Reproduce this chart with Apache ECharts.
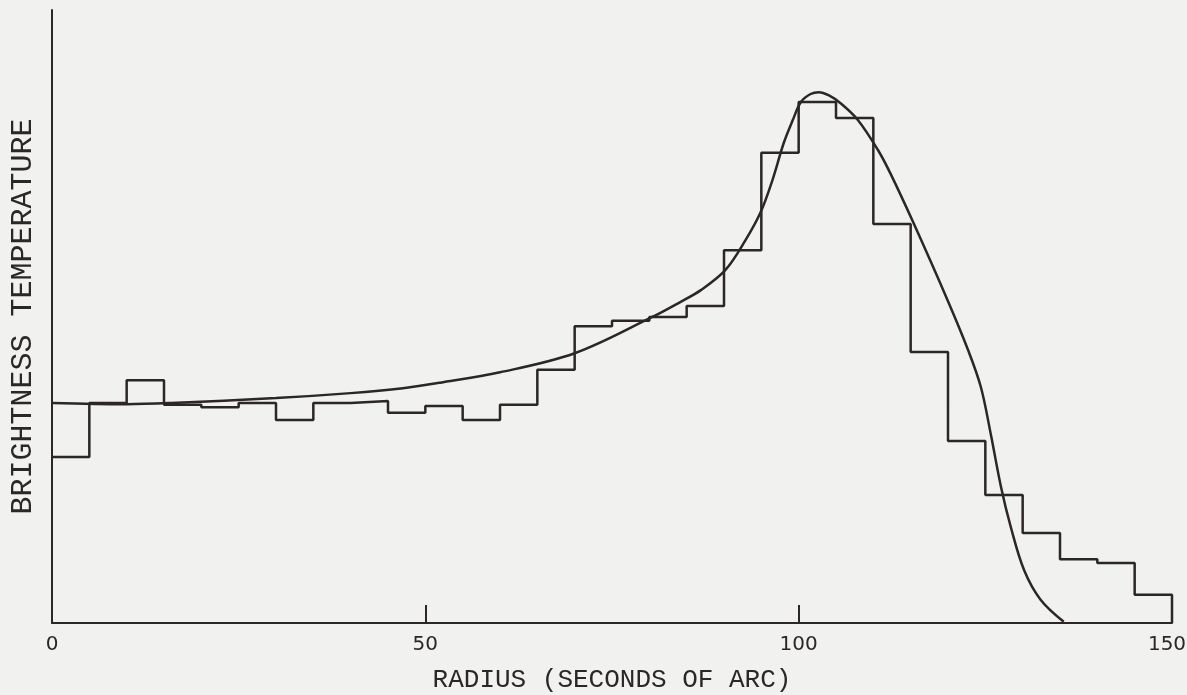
<!DOCTYPE html>
<html>
<head>
<meta charset="utf-8">
<script src="https://cdn.jsdelivr.net/npm/echarts@6/dist/echarts.min.js"></script>
<style>
html,body{margin:0;padding:0;background:#f1f1ef;}
#c{width:1187px;height:695px;}
</style>
</head>
<body>
<div id="c"></div>
<script>
// Histogram: bins of 5 arcsec, left edges
const binStarts = [0,5,10,15,20,25,30,35,40,45,50,55,60,65,70,75,80,85,90,95,100,105,110,115,120,125,130,135,140,145];
const binValues = [27.1,35.9,39.6,35.6,35.2,35.9,33.1,35.9,36.2,34.3,35.4,33.1,35.6,41.3,48.4,49.3,49.9,51.7,60.8,76.7,85.0,82.4,65.1,44.2,29.7,20.9,14.7,10.4,9.8,4.6];
// Smooth model curve (radius, brightness temperature)
const curveX = [0,10,16,30,40,47,52,60,70,80.2,84.2,86.9,90.2,92.9,94.9,96.5,98,99.2,100.3,101.6,102.7,104,105.6,107.9,110.6,112.3,115.4,120,122.7,124.4,125.7,127.1,128.4,130.2,132.4,135.5];
const curveY = [35.9,35.7,35.9,36.7,37.5,38.3,39.2,40.9,44.0,49.8,52.4,54.3,57.6,62.5,67.0,72.3,78.3,82.0,85.0,86.3,86.6,86.1,84.8,82.1,77.2,73.3,65.2,52.5,44.5,38.5,31.0,22.2,15.7,8.6,3.8,0.2];
const xTicks = [0,50,100,150];

const ink = '#2b2627';
const histData = binStarts.map((x,i)=>[x,binValues[i]]);
histData.push([150, binValues[binValues.length-1]]);
histData.push([150, 0]);
const curveData = curveX.map((x,i)=>[x,curveY[i]]);

const chart = echarts.init(document.getElementById('c'));
chart.setOption({
  backgroundColor:'#f1f1ef',
  animation:false,
  grid:{left:52,right:15,top:10,bottom:72,outerBoundsMode:'none',containLabel:false},
  xAxis:{
    type:'value',min:0,max:150,interval:50,
    name:'RADIUS (SECONDS OF ARC)',nameLocation:'middle',nameGap:44,
    nameTextStyle:{color:ink,fontFamily:'Liberation Mono',fontSize:26},
    axisLine:{lineStyle:{color:ink,width:2}},
    axisTick:{show:true,inside:true,length:18,lineStyle:{color:ink,width:2}},
    axisLabel:{color:ink,fontFamily:'DejaVu Sans',fontSize:20,margin:12,
      formatter:v=>{
        if(!xTicks.includes(v)) return '';
        return v===150 ? '{r|'+v+'}' : String(v);
      },
      rich:{r:{color:ink,fontFamily:'DejaVu Sans',fontSize:20,padding:[0,10,0,0]}}
    },
    splitLine:{show:false}
  },
  yAxis:{
    type:'value',min:0,max:100,
    name:'BRIGHTNESS TEMPERATURE',nameLocation:'middle',nameGap:14,
    nameTextStyle:{color:ink,fontFamily:'Liberation Mono',fontSize:30},
    axisLine:{show:true,lineStyle:{color:ink,width:2}},
    axisTick:{show:false},axisLabel:{show:false},splitLine:{show:false}
  },
  series:[
    {type:'line',step:'end',data:histData,symbol:'none',
     lineStyle:{color:ink,width:2.5}},
    {type:'line',smooth:0.35,data:curveData,symbol:'none',
     lineStyle:{color:ink,width:2.5}}
  ]
});
</script>
</body>
</html>
